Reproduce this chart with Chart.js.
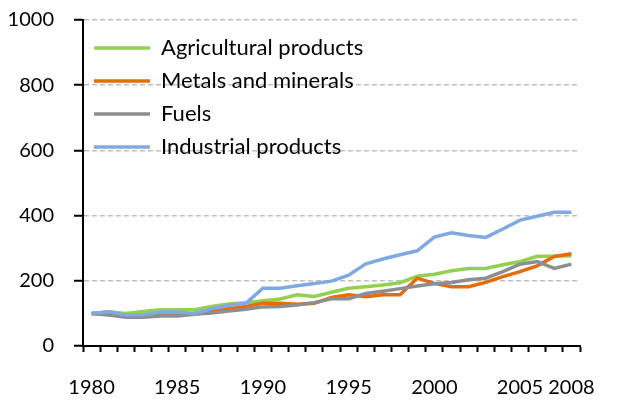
<!DOCTYPE html>
<html><head><meta charset="utf-8">
<script src="https://cdn.jsdelivr.net/npm/chart.js@4"></script>
<style>html,body{margin:0;padding:0;background:#fff;}#wrap{width:619px;height:402px;position:relative;}</style>
</head><body>
<div id="wrap"><canvas id="c" width="619" height="402"></canvas></div>
<script>
const years = [1980,1981,1982,1983,1984,1985,1986,1987,1988,1989,1990,1991,1992,1993,1994,1995,1996,1997,1998,1999,2000,2001,2002,2003,2004,2005,2006,2007,2008];
const agricultural = [100,105,100,106,111,111,111,121,129,133,139,144,157,152,165,177,182,187,194,214,220,231,238,238,249,259,275,275,277];
const metals = [100,97,93,91,95,95,100,106,114,121,131,131,128,131,149,157,151,157,157,208,192,182,182,195,213,228,246,275,283];
const fuels = [100,95,88,88,92,92,97,101,107,113,120,121,126,133,145,145,161,168,176,184,191,195,203,208,228,251,259,238,251];
const industrial = [100,105,95,95,104,104,100,114,125,131,177,177,185,192,199,217,252,267,280,292,334,347,339,333,359,386,398,410,410];
const shownYears = [1980,1985,1990,1995,2000,2005,2008];
const yTicks = [0,200,400,600,800,1000];

const FONT = 'Lato, "Open Sans", sans-serif';
function ds(label, data, color, order){
  return {label, data, borderColor: color, backgroundColor: color, borderWidth: 3.5,
          pointRadius: 0, pointHoverRadius: 0, tension: 0, fill: false, order};
}
new Chart(document.getElementById('c'), {
  type: 'line',
  data: {
    labels: years.map(String),
    datasets: [
      ds('Agricultural products', agricultural, '#92d050', 3),
      ds('Metals and minerals', metals, '#e46c0a', 2),
      ds('Fuels', fuels, '#8e8e8e', 1),
      ds('Industrial products', industrial, '#7fa9e0', 0)
    ]
  },
  options: {
    responsive: false, animation: false,
    layout: {padding: {left: 0, right: 21, top: 0, bottom: 0}},
    plugins: {
      tooltip: {enabled: false},
      legend: {
        position: 'chartArea', align: 'start', fullSize: false,
        title: {display: true, text: '', font: {size: 1, lineHeight: 1}, padding: {top: 25, bottom: 0}},
        labels: {
          boxWidth: 56, boxHeight: 3.5, padding: 11, color: '#000',
          font: {family: FONT, size: 22},
          sort: (a, b) => a.datasetIndex - b.datasetIndex,
          generateLabels: (chart) => Chart.defaults.plugins.legend.labels.generateLabels(chart).map(l => Object.assign(l, {lineWidth: 0}))
        }
      }
    },
    scales: {
      x: {
        type: 'category', offset: true,
        grid: {offset: true, drawOnChartArea: false, drawTicks: true, tickLength: 6, tickColor: '#000', tickWidth: 2},
        border: {display: true, color: '#000', width: 2},
        ticks: {
          autoSkip: false, maxRotation: 0, minRotation: 0, padding: 24, color: '#000',
          font: {family: FONT, size: 20},
          callback: function(v, i){ const y = years[i]; return shownYears.includes(y) ? String(y) : ''; }
        },
        afterFit: (s) => { s.height = 56; }
      },
      y: {
        min: 0, max: 1000,
        afterBuildTicks: (s) => { s.ticks = yTicks.map(v => ({value: v})); },
        grid: {color: '#bfbfbf', lineWidth: 1.5, tickColor: '#000', tickLength: 9, tickWidth: 2, drawTicks: true},
        border: {display: true, color: '#000', width: 2, dash: [5, 3]},
        ticks: {color: '#000', padding: 20, font: {family: FONT, size: 20}, callback: (v) => String(v)},
        afterFit: (s) => { s.width = 83; s.paddingTop = 20; s.paddingBottom = 0; }
      }
    }
  }
});
</script>
</body></html>
